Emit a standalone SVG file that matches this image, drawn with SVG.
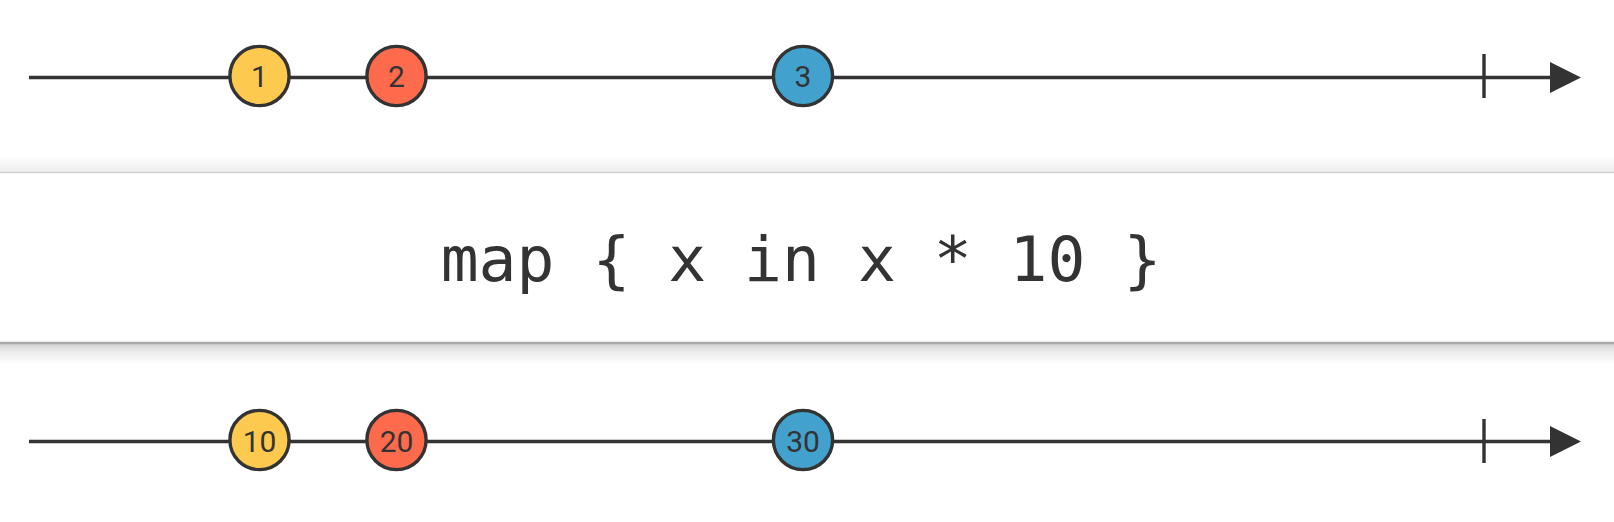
<svg xmlns="http://www.w3.org/2000/svg" width="1614" height="522" viewBox="0 0 1614 522">
  <style>
    .axis { stroke: #333333; stroke-width: 3.4; fill: none; }
    .marble { stroke: #333333; stroke-width: 3.4; }
    .yellow { fill: #FEC94F; }
    .red { fill: #FE6B4C; }
    .blue { fill: #42A2CD; }
    .label { font-family: Roboto, "Noto Sans", sans-serif; font-size: 30px; fill: #333333; text-anchor: middle; }
    .op { font-family: "DejaVu Sans Mono", "Liberation Mono", monospace; font-size: 63px; fill: #333333; text-anchor: middle; }
  </style>
  <defs>
    <linearGradient id="shadowTop" x1="0" y1="0" x2="0" y2="1">
      <stop offset="0" stop-color="#ffffff"/>
      <stop offset="1" stop-color="#ececec"/>
    </linearGradient>
    <linearGradient id="shadowBottom" x1="0" y1="0" x2="0" y2="1">
      <stop offset="0" stop-color="#cfcfcf"/>
      <stop offset="0.4" stop-color="#ececec"/>
      <stop offset="1" stop-color="#ffffff"/>
    </linearGradient>
    <marker id="arrow" markerUnits="userSpaceOnUse" markerWidth="32" markerHeight="32" refX="0" refY="16" orient="auto">
      <path d="M0,0.5 L31,16 L0,31.5 Z" fill="#333333"/>
    </marker>
  </defs>
  <rect width="1614" height="522" fill="#ffffff"/>

  <g id="operator">
    <rect x="0" y="156" width="1614" height="17" fill="url(#shadowTop)"/>
    <rect x="0" y="343" width="1614" height="22" fill="url(#shadowBottom)"/>
    <rect x="0" y="172.5" width="1614" height="170" fill="#ffffff"/>
    <line x1="0" y1="172.5" x2="1614" y2="172.5" stroke="#d2d2d2" stroke-width="1.5"/>
    <line x1="0" y1="343" x2="1614" y2="343" stroke="#a8a8a8" stroke-width="2.5"/>
    <text class="op" x="801" y="281">map { x in x * 10 }</text>
  </g>

  <g id="connectors">
    <line class="axis" x1="29" y1="77.5" x2="1550" y2="77.5" marker-end="url(#arrow)"/>
    <line class="axis" x1="1484" y1="54" x2="1484" y2="98"/>
    <line class="axis" x1="29" y1="441.5" x2="1550" y2="441.5" marker-end="url(#arrow)"/>
    <line class="axis" x1="1484" y1="419" x2="1484" y2="463"/>
  </g>

  <g id="in-1">
    <circle class="marble yellow" cx="259.5" cy="76" r="29.6"/>
    <text class="label" x="259.5" y="87">1</text>
  </g>
  <g id="in-2">
    <circle class="marble red" cx="396.5" cy="76" r="29.6"/>
    <text class="label" x="396.5" y="87">2</text>
  </g>
  <g id="in-3">
    <circle class="marble blue" cx="803" cy="76" r="29.6"/>
    <text class="label" x="803" y="87">3</text>
  </g>

  <g id="out-10">
    <circle class="marble yellow" cx="259.5" cy="440" r="29.6"/>
    <text class="label" x="259.5" y="451.5">10</text>
  </g>
  <g id="out-20">
    <circle class="marble red" cx="396.5" cy="440" r="29.6"/>
    <text class="label" x="396.5" y="451.5">20</text>
  </g>
  <g id="out-30">
    <circle class="marble blue" cx="803" cy="440" r="29.6"/>
    <text class="label" x="803" y="451.5">30</text>
  </g>
</svg>
